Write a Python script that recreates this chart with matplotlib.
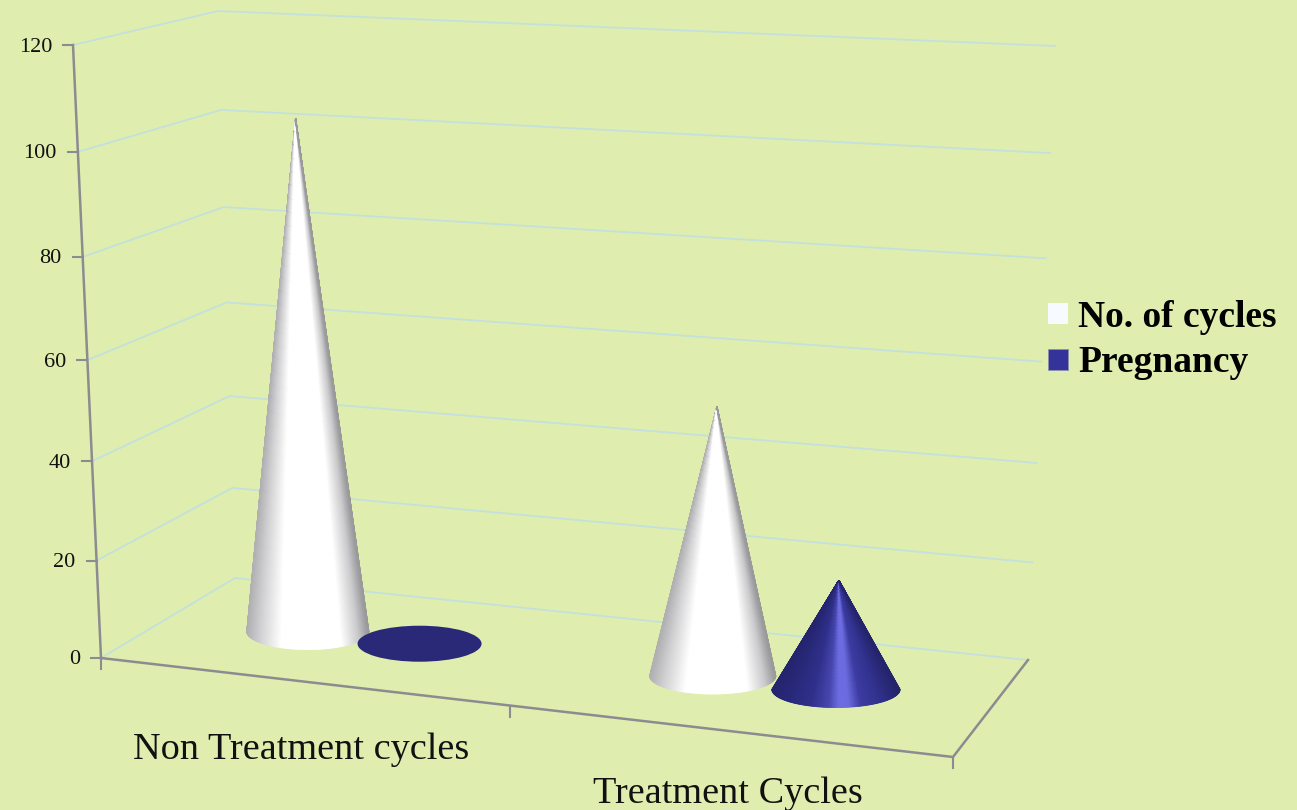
import numpy as np
import matplotlib
matplotlib.use("Agg")
import matplotlib.pyplot as plt
from matplotlib.patches import Ellipse, Patch

plt.rcParams["font.family"] = ["Liberation Serif", "DejaVu Serif"]

categories = ["Non Treatment cycles", "Treatment Cycles"]
series_names = ["No. of cycles", "Pregnancy"]
no_of_cycles = [104, 54]
pregnancy = [0, 22]
y_ticks = [0, 20, 40, 60, 80, 100, 120]
y_max = 120

BG = "#dfeeae"
GRID = "#c4e0dc"
AXIS = "#8c8c90"

# box corners in pixels: front left, front right, back left, back right
FL0, FR0, BL0, BR0 = map(np.array, [(101, 658), (953, 757), (235, 578), (1028, 660)])
FL1, FR1, BL1, BR1 = map(np.array, [(73, 45), (978, 107), (218, 11), (1055, 46)])

# where the cones stand on the floor
cone_u = {0: [0.167, 0.303], 1: [0.66, 0.81]}
cone_d = 0.52
cone_rx = {0: [61, 62], 1: [63, 64]}
cone_ry = 18

white_stops = ([0, 0.1, 0.28, 0.78, 0.92, 1],
               ["#b0b0b2", "#cfcfd1", "#ffffff", "#ffffff", "#cbcbcd", "#9a9a9c"])
blue_stops = ([0, 0.3, 0.44, 0.52, 0.6, 0.7, 0.85, 1],
              ["#24246e", "#30308c", "#4646ae", "#6c6ce0", "#6c6ce0", "#3c3ca2", "#31318e", "#24246c"])


def project(u, d, v):
    t = v / y_max
    t = t - 0.056 * t * (1 - t)  # the wall spacing grows a little towards the top
    floor = (1 - d) * ((1 - u) * FL0 + u * FR0) + d * ((1 - u) * BL0 + u * BR0)
    top = (1 - d) * ((1 - u) * FL1 + u * FR1) + d * ((1 - u) * BL1 + u * BR1)
    return floor + (top - floor) * t


def draw_cone(ax, u, value, rx, stops, zero_color, z):
    cx, cy = project(u, cone_d, 0)
    if value == 0:
        ax.add_patch(Ellipse((cx, cy), rx * 2, cone_ry * 2, fc=zero_color, ec="none", zorder=z))
        return
    tip_x, tip_y = project(u, cone_d, value)
    th = np.linspace(np.pi, 0, 161)
    base_x = cx + rx * np.cos(th)
    base_y = cy + cone_ry * np.sin(th)
    s = np.linspace(0, 1, 40)[:, None]
    X = tip_x + (base_x - tip_x) * s
    Y = tip_y + (base_y - tip_y) * s
    t = (base_x - cx + rx) / (2 * rx)
    rgb = np.array([matplotlib.colors.to_rgb(c) for c in stops[1]])
    C = np.stack([np.interp(t, stops[0], rgb[:, i]) for i in range(3)], axis=-1)
    C = np.repeat(C[None, :, :], len(s), axis=0)
    ax.pcolormesh(X, Y, C, shading="gouraud", zorder=z)


fig = plt.figure(figsize=(12.97, 8.1), dpi=100, facecolor=BG)
ax = fig.add_axes([0, 0, 1, 1])
ax.axis("off")

# gridlines over the left and back walls
for v in y_ticks:
    a = project(0, 0, v)
    b = project(0, 1, v)
    c = project(1, 1, v)
    ax.plot([a[0], b[0], c[0]], [a[1], b[1], c[1]], color=GRID, lw=1.3, zorder=1)
    ax.plot([a[0] - 10, a[0]], [a[1], a[1]], color=AXIS, lw=1.5, zorder=2)
    ax.text(a[0] - 21, a[1] + 2, str(v), ha="right", va="center", fontsize=16, color="#111111")

# axes and floor
ax.plot([FL1[0], FL0[0]], [FL1[1], FL0[1]], color=AXIS, lw=1.8, zorder=2)
ax.plot([FL0[0], FR0[0], BR0[0]], [FL0[1], FR0[1], BR0[1]], color=AXIS, lw=1.8, zorder=2)
for u in [0, 0.48, 1]:
    p = project(u, 0, 0)
    ax.plot([p[0], p[0]], [p[1], p[1] + 11], color=AXIS, lw=1.5, zorder=2)

# back cones first so the nearer ones sit on top
for i in range(len(categories)):
    draw_cone(ax, cone_u[i][0], no_of_cycles[i], cone_rx[i][0], white_stops, "#ffffff", 3 + i)
    draw_cone(ax, cone_u[i][1], pregnancy[i], cone_rx[i][1], blue_stops, "#292977", 3.5 + i)

ax.text(133, 759, categories[0], fontsize=27.5, color="#111111", ha="left", va="baseline")
ax.text(593, 803, categories[1], fontsize=27.5, color="#111111", ha="left", va="baseline")

ax.set_xlim(0, 1297)
ax.set_ylim(810, 0)

handles = [Patch(fc="#f7fbff", ec="none"), Patch(fc="#33339a", ec="#8f90b0", lw=0.6)]
ax.legend(handles, series_names, loc="upper left", bbox_to_anchor=(1048 / 1297, 1 - 300 / 810),
          frameon=False, handlelength=0.53, handleheight=0.5, handletextpad=0.27, labelspacing=0.28,
          borderpad=0, borderaxespad=0, prop={"family": "Liberation Serif", "weight": "bold", "size": 27})

fig.savefig("out.png", dpi=100, facecolor=BG)
